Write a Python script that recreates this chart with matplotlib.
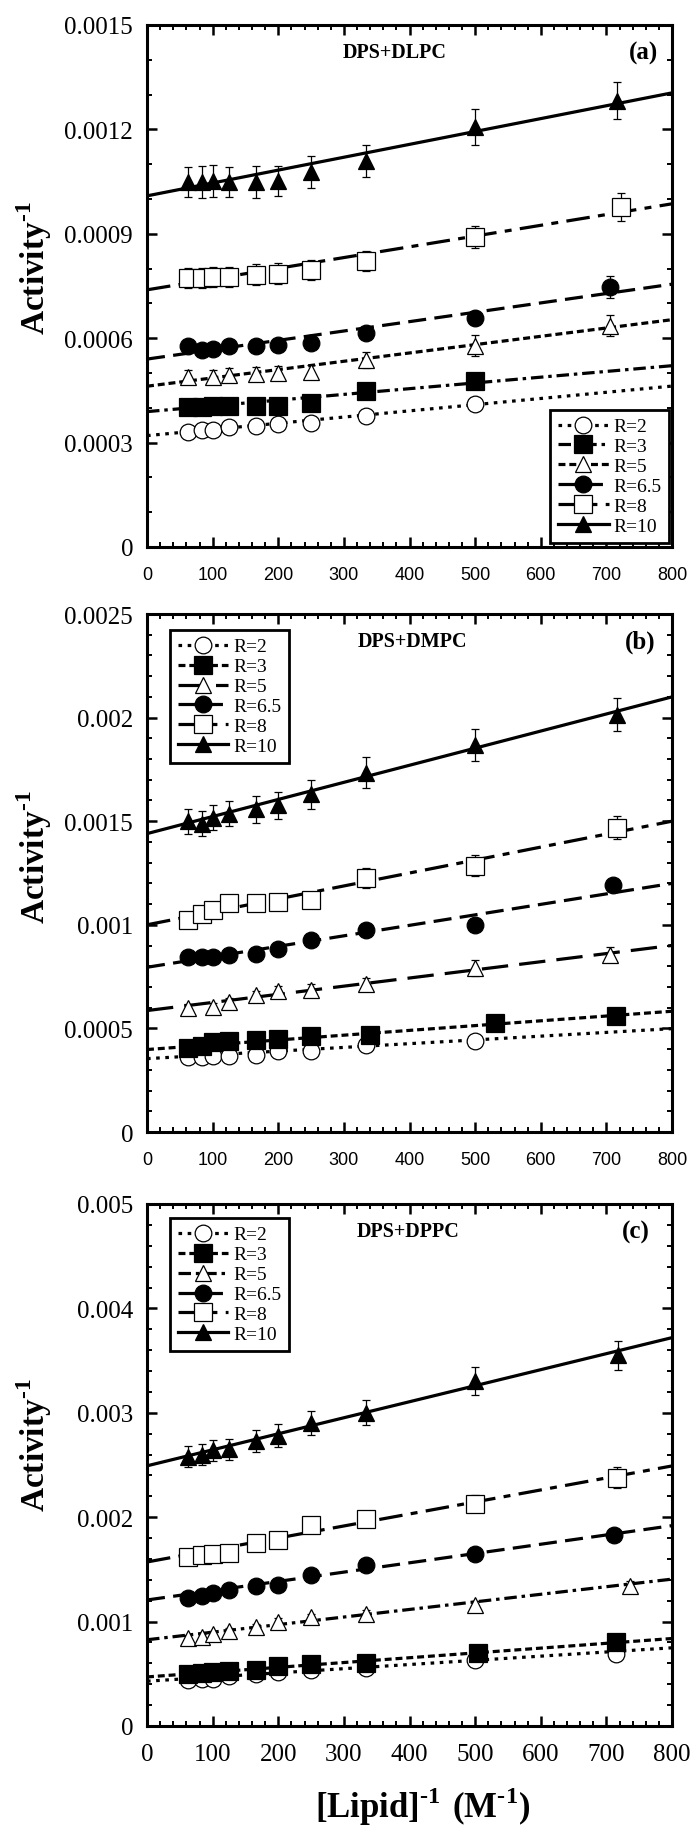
import numpy as np
import matplotlib
matplotlib.use('Agg')
import matplotlib.pyplot as plt
from matplotlib.lines import Line2D
from matplotlib.ticker import MultipleLocator, FuncFormatter

plt.rcParams['font.family'] = ['Liberation Serif', 'DejaVu Serif']
plt.rcParams['mathtext.fontset'] = 'custom'
plt.rcParams['mathtext.rm'] = 'Liberation Serif:bold'
plt.rcParams['mathtext.bf'] = 'Liberation Serif:bold'
plt.rcParams['lines.scale_dashes'] = False

# ---------------- data ----------------
labels = ['R=2', 'R=3', 'R=5', 'R=6.5', 'R=8', 'R=10']
panel_titles = ['DPS+DLPC', 'DPS+DMPC', 'DPS+DPPC']
panel_tags = ['(a)', '(b)', '(c)']
y_max = [0.0015, 0.0025, 0.005]
y_major = [0.0003, 0.0005, 0.001]
y_minor = [0.0001, 0.0001, 0.0002]
x_ticks = [0, 100, 200, 300, 400, 500, 600, 700, 800]

# Panel (a) DPS+DLPC
a_x_r2 = [62.5, 83.3, 100, 125, 166.7, 200, 250, 333.3, 500]
a_y_r2 = [0.00033, 0.000336, 0.000336, 0.000344, 0.000349, 0.000354, 0.000355, 0.000377, 0.000411]
a_e_r2 = [1e-5, 1e-5, 1e-5, 1e-5, 1e-5, 1e-5, 1e-5, 1e-5, 1.2e-5]
a_x_r3 = [62.5, 83.3, 100, 125, 166.7, 200, 250, 333.3, 500]
a_y_r3 = [0.000401, 0.000401, 0.000404, 0.000404, 0.000406, 0.000406, 0.000414, 0.000449, 0.000478]
a_e_r3 = [1e-5, 1e-5, 1e-5, 1e-5, 1e-5, 1e-5, 1e-5, 1.2e-5, 1.5e-5]
a_x_r5 = [62.5, 100, 125, 166.7, 200, 250, 333.3, 500, 705]
a_y_r5 = [0.000489, 0.000489, 0.000494, 0.000497, 0.000499, 0.000504, 0.000537, 0.000579, 0.000636]
a_e_r5 = [2e-5, 2e-5, 2e-5, 2e-5, 2e-5, 2e-5, 2.2e-5, 2.9e-5, 3e-5]
a_x_r65 = [62.5, 83.3, 100, 125, 166.7, 200, 250, 333.3, 500, 705]
a_y_r65 = [0.000579, 0.000566, 0.000569, 0.000579, 0.000579, 0.000581, 0.000585, 0.000614, 0.000657, 0.000747]
a_e_r65 = [1e-5, 1e-5, 1e-5, 1e-5, 1e-5, 1e-5, 1e-5, 1.5e-5, 2e-5, 3.2e-5]
a_x_r8 = [62.5, 83.3, 100, 125, 166.7, 200, 250, 333.3, 500, 722]
a_y_r8 = [0.000773, 0.000773, 0.000776, 0.000776, 0.000782, 0.000785, 0.000796, 0.000822, 0.000891, 0.000977]
a_e_r8 = [3e-5, 3e-5, 3e-5, 3e-5, 3e-5, 3e-5, 3e-5, 3e-5, 3.2e-5, 4e-5]
a_x_r10 = [62.5, 83.3, 100, 125, 166.7, 200, 250, 333.3, 500, 716]
a_y_r10 = [0.001049, 0.001049, 0.001052, 0.001049, 0.001049, 0.001052, 0.001078, 0.001109, 0.001207, 0.001282]
a_e_r10 = [4.2e-5, 4.5e-5, 4.5e-5, 4.2e-5, 4.5e-5, 4.2e-5, 4.5e-5, 4.5e-5, 5.2e-5, 5.3e-5]
a_fit_b = [0.00032, 0.000389, 0.000462, 0.00054, 0.000739, 0.001009]
a_fit_m = [1.78e-7, 1.65e-7, 2.39e-7, 2.69e-7, 3.09e-7, 3.7e-7]

# Panel (b) DPS+DMPC
b_x_r2 = [62.5, 83.3, 100, 125, 166.7, 200, 250, 333.3, 500]
b_y_r2 = [0.000361, 0.000361, 0.000366, 0.000365, 0.000374, 0.00039, 0.00039, 0.000419, 0.000441]
b_e_r2 = [1e-5, 1e-5, 1e-5, 1e-5, 1e-5, 1e-5, 1e-5, 1e-5, 1.2e-5]
b_x_r3 = [62.5, 83.3, 100, 125, 166.7, 200, 250, 340, 530, 714]
b_y_r3 = [0.000405, 0.000415, 0.000435, 0.000437, 0.000442, 0.000448, 0.000465, 0.000468, 0.000526, 0.000559]
b_e_r3 = [1e-5, 1e-5, 1e-5, 1e-5, 1e-5, 1e-5, 1e-5, 1.2e-5, 1.5e-5, 1.5e-5]
b_x_r5 = [62.5, 100, 125, 166.7, 200, 250, 333.3, 500, 705]
b_y_r5 = [0.000599, 0.000602, 0.000628, 0.00066, 0.000679, 0.000687, 0.000715, 0.000792, 0.000856]
b_e_r5 = [2e-5, 2e-5, 2e-5, 2.2e-5, 2.5e-5, 2.5e-5, 3e-5, 3.8e-5, 3.5e-5]
b_x_r65 = [62.5, 83.3, 100, 125, 166.7, 200, 250, 333.3, 500, 710]
b_y_r65 = [0.000844, 0.000844, 0.000844, 0.000852, 0.00086, 0.000881, 0.000929, 0.000977, 0.001001, 0.001193]
b_e_r65 = [1.5e-5, 1.5e-5, 1.5e-5, 1.5e-5, 1.5e-5, 1.5e-5, 1.5e-5, 2e-5, 2e-5, 3e-5]
b_x_r8 = [62.5, 83.3, 100, 125, 166.7, 200, 250, 333.3, 500, 716]
b_y_r8 = [0.001025, 0.001053, 0.001071, 0.001106, 0.001106, 0.001111, 0.001122, 0.001227, 0.001285, 0.001468]
b_e_r8 = [3e-5, 3e-5, 3e-5, 3e-5, 3e-5, 3e-5, 3.5e-5, 4.8e-5, 5e-5, 5.6e-5]
b_x_r10 = [62.5, 83.3, 100, 125, 166.7, 200, 250, 333.3, 500, 716]
b_y_r10 = [0.0015, 0.001488, 0.001517, 0.001536, 0.001557, 0.001578, 0.001629, 0.001734, 0.001869, 0.002014]
b_e_r10 = [6e-5, 6e-5, 6e-5, 6e-5, 6.5e-5, 6.5e-5, 7e-5, 7.5e-5, 7.7e-5, 8e-5]
b_fit_b = [0.000354, 0.000398, 0.000586, 0.000795, 0.001, 0.00144]
b_fit_m = [1.81e-7, 2.31e-7, 3.93e-7, 5.06e-7, 6.25e-7, 8.25e-7]

# Panel (c) DPS+DPPC
c_x_r2 = [62.5, 83.3, 100, 125, 166.7, 200, 250, 333.3, 500, 714]
c_y_r2 = [0.000445, 0.000448, 0.000452, 0.000475, 0.000495, 0.000514, 0.00054, 0.000556, 0.000635, 0.000692]
c_e_r2 = [2e-5, 2e-5, 2e-5, 2e-5, 2e-5, 2e-5, 2e-5, 2e-5, 2.5e-5, 3e-5]
c_x_r3 = [62.5, 83.3, 100, 125, 166.7, 200, 250, 333.3, 505, 714]
c_y_r3 = [0.0005, 0.00051, 0.00052, 0.00053, 0.00054, 0.00057, 0.00059, 0.000605, 0.000698, 0.000805]
c_e_r3 = [2e-5, 2e-5, 2e-5, 2e-5, 2e-5, 2e-5, 2e-5, 2.5e-5, 3e-5, 3e-5]
c_x_r5 = [62.5, 83.3, 100, 125, 166.7, 200, 250, 333.3, 500, 736]
c_y_r5 = [0.00084, 0.000855, 0.00088, 0.00091, 0.00095, 0.001, 0.00104, 0.001075, 0.00116, 0.001345]
c_e_r5 = [3e-5, 3e-5, 3e-5, 3e-5, 3e-5, 3e-5, 3e-5, 3.5e-5, 4e-5, 4e-5]
c_x_r65 = [62.5, 83.3, 100, 125, 166.7, 200, 250, 333.3, 500, 712]
c_y_r65 = [0.001223, 0.001245, 0.001276, 0.001302, 0.00134, 0.00135, 0.001445, 0.00154, 0.001651, 0.001826]
c_e_r65 = [3e-5, 3e-5, 3e-5, 3e-5, 3e-5, 3e-5, 3e-5, 4e-5, 4e-5, 5e-5]
c_x_r8 = [62.5, 83.3, 100, 125, 166.7, 200, 250, 333.3, 500, 716]
c_y_r8 = [0.001619, 0.001635, 0.001645, 0.001657, 0.001752, 0.001785, 0.001921, 0.001985, 0.002128, 0.00238]
c_e_r8 = [4e-5, 4e-5, 4e-5, 4e-5, 4e-5, 4e-5, 5e-5, 6e-5, 8e-5, 1e-4]
c_x_r10 = [62.5, 83.3, 100, 125, 166.7, 200, 250, 333.3, 500, 718]
c_y_r10 = [0.002578, 0.002597, 0.002642, 0.002651, 0.00273, 0.002778, 0.002905, 0.003, 0.003302, 0.00355]
c_e_r10 = [1e-4, 1e-4, 1e-4, 1e-4, 1.05e-4, 1.1e-4, 1.15e-4, 1.2e-4, 1.35e-4, 1.4e-4]
c_fit_b = [0.000429, 0.00047, 0.000826, 0.001207, 0.001571, 0.002492]
c_fit_m = [4.0e-7, 4.6e-7, 7.26e-7, 8.9e-7, 1.15e-6, 1.535e-6]

panels = [
    dict(xs=[a_x_r2, a_x_r3, a_x_r5, a_x_r65, a_x_r8, a_x_r10],
         ys=[a_y_r2, a_y_r3, a_y_r5, a_y_r65, a_y_r8, a_y_r10],
         es=[a_e_r2, a_e_r3, a_e_r5, a_e_r65, a_e_r8, a_e_r10],
         fb=a_fit_b, fm=a_fit_m),
    dict(xs=[b_x_r2, b_x_r3, b_x_r5, b_x_r65, b_x_r8, b_x_r10],
         ys=[b_y_r2, b_y_r3, b_y_r5, b_y_r65, b_y_r8, b_y_r10],
         es=[b_e_r2, b_e_r3, b_e_r5, b_e_r65, b_e_r8, b_e_r10],
         fb=b_fit_b, fm=b_fit_m),
    dict(xs=[c_x_r2, c_x_r3, c_x_r5, c_x_r65, c_x_r8, c_x_r10],
         ys=[c_y_r2, c_y_r3, c_y_r5, c_y_r65, c_y_r8, c_y_r10],
         es=[c_e_r2, c_e_r3, c_e_r5, c_e_r65, c_e_r8, c_e_r10],
         fb=c_fit_b, fm=c_fit_m),
]

# ---------------- styles ----------------
DOT = (0, (2.6, 4.0))
DASHDOT = (0, (9, 3.5, 2.5, 3.5))
SHORT = (0, (5, 2.8))
LONG = (0, (13, 6))
LONGER = (0, (19, 8))
LONGSHORT = (0, (17, 6, 5, 6))
SOLID = '-'
panel_ls = [
    [DOT, DASHDOT, SHORT, LONG, LONGSHORT, SOLID],
    [DOT, SHORT, LONGER, LONG, LONGSHORT, SOLID],
    [DOT, SHORT, DASHDOT, LONG, LONGSHORT, SOLID],
]
markers = ['o', 's', '^', 'o', 's', '^']
filled = [False, True, False, True, False, True]
msizes = [12, 13, 11.5, 12, 13, 11.5]
LW = 2.3

fig = plt.figure(figsize=(6.99, 18.31), dpi=100)
H = 1831.0
W = 699.0
ax_pix = [(26, 548), (615, 1133), (1205, 1727)]
ylab_y = [268, 857, 1445]
legend_anchor = [('lower right', (0.995, 0.008)),
                 ('upper left', (0.044, 0.969)),
                 ('upper left', (0.044, 0.973))]
tag_x = [0.945, 0.939, 0.931]
title_x = [0.472, 0.505, 0.497]

def fmt_y(v, pos):
    if abs(v) < 1e-12:
        return '0'
    return f'{v:.4f}'.rstrip('0')

for i, p in enumerate(panels):
    top, bot = ax_pix[i]
    ax = fig.add_axes([147 / W, 1 - bot / H, 525 / W, (bot - top) / H])
    handles = []
    for k in range(6):
        x = np.array(p['xs'][k], dtype=float)
        y = np.array(p['ys'][k], dtype=float)
        e = np.array(p['es'][k], dtype=float)
        fx = np.array([x_ticks[0], x_ticks[-1]], dtype=float)
        fy = p['fb'][k] + p['fm'][k] * fx
        ls = panel_ls[i][k]
        ax.plot(fx, fy, color='black', lw=LW, linestyle=ls, zorder=2,
                dash_capstyle='butt', solid_capstyle='butt')
        ax.errorbar(x, y, yerr=e, fmt='none', ecolor='black', elinewidth=0.9,
                    capsize=3, capthick=0.9, zorder=3)
        mfc = 'black' if filled[k] else 'white'
        ax.plot(x, y, linestyle='none', marker=markers[k], ms=msizes[k],
                mfc=mfc, mec='black', mew=0.9, zorder=4)
        handles.append(Line2D([], [], color='black', lw=LW, linestyle=ls,
                              marker=markers[k], ms=msizes[k], mfc=mfc,
                              mec='black', mew=0.9))
    ax.set_xlim(x_ticks[0], x_ticks[-1])
    ax.set_ylim(0, y_max[i])
    ax.xaxis.set_major_locator(MultipleLocator(100))
    ax.xaxis.set_minor_locator(MultipleLocator(20))
    ax.yaxis.set_major_locator(MultipleLocator(y_major[i]))
    ax.yaxis.set_minor_locator(MultipleLocator(y_minor[i]))
    ax.yaxis.set_major_formatter(FuncFormatter(fmt_y))
    ax.tick_params(which='both', direction='in', top=True, right=True)
    ax.tick_params(which='major', length=7, width=1.8)
    ax.tick_params(which='minor', length=3.5, width=1.4)
    ax.tick_params(axis='y', labelsize=18, pad=10)
    if i < 2:
        ax.tick_params(axis='x', labelsize=13, pad=14, labelfontfamily='Liberation Sans')
    else:
        ax.tick_params(axis='x', labelsize=18, pad=12)
    for sp in ax.spines.values():
        sp.set_linewidth(2.2)
    ax.text(title_x[i], 0.948, panel_titles[i], transform=ax.transAxes,
            ha='center', va='center', fontsize=14.5, fontweight='bold')
    ax.text(tag_x[i], 0.948, panel_tags[i], transform=ax.transAxes,
            ha='center', va='center', fontsize=18, fontweight='bold')
    loc, anchor = legend_anchor[i]
    leg = ax.legend(handles, labels, loc=loc, bbox_to_anchor=anchor,
                    borderaxespad=0, frameon=True, fancybox=False,
                    fontsize=14, handlelength=2.6, handletextpad=0.25,
                    labelspacing=0.12, borderpad=0.4, numpoints=1)
    leg.get_frame().set_edgecolor('black')
    leg.get_frame().set_linewidth(2.0)
    leg.get_frame().set_alpha(1)
    fig.text(34 / W, 1 - ylab_y[i] / H, r'$\mathbf{Activity}^{\text{-}\mathbf{1}}$',
             rotation=90, ha='center', va='center', fontsize=24)

fig.text(423 / W, 1 - 1807 / H,
         r'$\mathbf{[Lipid]}^{\text{-}\mathbf{1}}\ \mathbf{(M}^{\text{-}\mathbf{1}}\mathbf{)}$',
         ha='center', va='center', fontsize=25)

fig.savefig('out.png', dpi=100, facecolor='white')
